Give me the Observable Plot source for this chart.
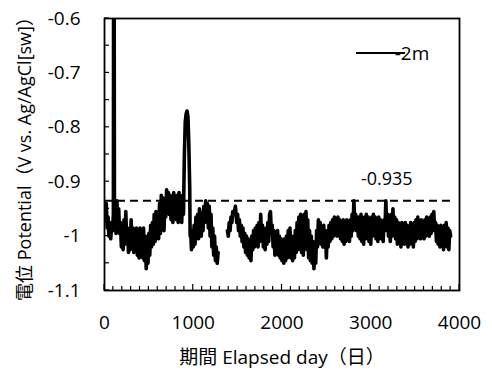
<!DOCTYPE html>
<html>
<head>
<meta charset="utf-8">
<script src="https://cdn.jsdelivr.net/npm/d3@7"></script>
<script src="https://cdn.jsdelivr.net/npm/@observablehq/plot@0.6"></script>
<style>
  html, body { margin: 0; padding: 0; background: #fff; }
  #chart { width: 492px; height: 371px; }
</style>
</head>
<body>
<div id="chart"></div>
<script>
// ---- data ----
const seriesName = "-2m";
const thresholdValue = -0.935;
const thresholdLabel = "-0.935";
const thresholdEnd = 3900;
const xTicks = [0, 1000, 2000, 3000, 4000];
const yTicks = [-0.6, -0.7, -0.8, -0.9, -1, -1.1];
const xTitle = "期間 Elapsed day（日）";
const yTitle = "電位 Potential（V vs. Ag/AgCl[sw]）";

const day = [
  0,10,20,30,40,50,60,70,80,90,100,103,108,112,120,130,140,150,160,170,180,190,200,210,220,230,240,250,260,270,280,290,
  300,310,320,330,340,350,360,370,380,390,400,410,420,430,440,450,460,470,480,490,500,510,520,530,540,550,560,570,580,590,
  600,610,620,630,640,650,660,670,680,690,700,710,720,730,740,750,760,770,780,790,800,810,820,830,840,850,860,870,880,890,
  900,910,920,930,940,950,960,965,970,980,990,1000,1010,1020,1030,1040,1050,1060,1070,1080,1090,1100,1110,1120,1130,1140,
  1150,1160,1170,1180,1190,1200,1210,1220,1230,1240,1250,1260,1270,1280,1330,
  1385,1395,1405,1415,1425,1435,1445,1460,1475,1490,1500,1510,1520,1530,1540,1550,1560,1570,1580,1590,1600,1610,1620,1630,
  1640,1650,1660,1670,1680,1690,1700,1710,1720,1730,1740,1750,1760,1770,1780,1790,1800,1810,1820,1830,1840,1850,1860,1870,
  1880,1890,1900,1910,1920,1930,1940,1950,1960,1970,1980,1990,2000,2010,2020,2030,2040,2050,2060,2070,2080,2090,2100,2110,
  2120,2130,2140,2150,2160,2170,2180,2190,2200,2210,2220,2230,2240,2250,2260,2270,2280,2290,2300,2310,2320,2330,2340,2350,
  2360,2370,2380,2390,2400,2410,2420,2430,2440,2450,2460,2470,2480,2490,2500,2510,2520,2530,2540,2550,2560,2570,2580,2590,
  2600,2610,2620,2630,2640,2650,2660,2670,2680,2690,2700,2710,2720,2730,2740,2750,2760,2770,2780,2790,2800,2810,2820,2830,
  2840,2850,2860,2870,2880,2890,2900,2910,2920,2930,2940,2950,2960,2970,2980,2990,3000,3010,3020,3030,3040,3050,3060,3070,
  3080,3090,3100,3110,3120,3130,3140,3150,3160,3170,3180,3190,3200,3210,3220,3230,3240,3250,3260,3270,3280,3290,3300,3310,
  3320,3330,3340,3350,3360,3370,3380,3390,3400,3410,3420,3430,3440,3450,3460,3470,3480,3490,3500,3510,3520,3530,3540,3550,
  3560,3570,3580,3590,3600,3610,3620,3630,3640,3650,3660,3670,3680,3690,3700,3710,3720,3730,3740,3750,3760,3770,3780,3790,
  3800,3810,3820,3830,3840,3850,3860,3870,3880,3890,3900
];
const potential = [
  -0.945,-0.96,-0.94,-0.985,-0.965,-1.0,-0.975,-1.005,-0.98,-0.99,-0.96,-0.45,-0.45,-0.97,-0.94,-0.995,-0.935,-0.985,-0.95,-0.995,-0.975,-1.02,-0.985,-1.025,-0.97,-1.015,-0.955,-1.01,-0.985,-1.03,-0.995,-1.025,
  -0.97,-1.02,-0.985,-1.03,-0.995,-1.02,-0.985,-1.035,-1.0,-1.04,-0.985,-1.03,-0.99,-1.04,-0.985,-1.045,-1.0,-1.06,-1.02,-1.05,-0.995,-1.035,-0.98,-1.02,-0.975,-1.015,-0.96,-1.01,-0.955,-1.0,
  -0.965,-1.005,-0.94,-0.995,-0.925,-0.985,-0.93,-0.99,-0.945,-0.965,-0.915,-0.955,-0.92,-0.96,-0.925,-0.97,-0.93,-0.975,-0.92,-0.965,-0.93,-0.97,-0.925,-0.975,-0.92,-0.97,-0.93,-0.975,-0.925,-0.96,
  -0.85,-0.79,-0.775,-0.77,-0.78,-0.83,-0.91,-1.0,-0.99,-1.025,-0.99,-1.02,-0.98,-1.015,-0.965,-1.0,-0.96,-1.005,-0.95,-0.96,-1.0,-0.965,-0.99,-0.945,-0.975,-0.935,
  -0.97,-0.94,-0.985,-0.945,-1.0,-0.96,-1.02,-0.985,-1.035,-1.0,-1.045,-1.02,-1.05,-1.03,null,
  -0.99,-1.0,-0.975,-0.99,-0.965,-0.975,-0.955,-0.96,-0.945,-0.975,-0.96,-0.99,-0.97,-1.0,-0.98,-1.01,-0.985,-1.02,-0.995,-1.03,-1.0,-1.035,-1.005,-1.04,
  -1.01,-1.045,-1.0,-1.025,-0.99,-1.02,-0.985,-1.015,-0.98,-1.02,-0.975,-1.01,-0.96,-1.005,-0.98,-1.02,-0.99,-1.025,-0.985,-1.015,-0.975,-1.01,-0.96,-0.955,
  -0.995,-0.98,-1.02,-0.99,-1.035,-0.995,-1.03,-0.99,-1.035,-1.0,-1.04,-1.005,-1.045,-1.01,-1.05,-1.005,-1.045,-1.0,-1.04,-0.99,-1.035,-0.985,-1.04,-1.0,
  -1.045,-1.005,-1.04,-0.99,-1.03,-0.975,-1.025,-0.965,-1.02,-0.96,-1.03,-0.975,-1.035,-0.96,-1.02,-0.955,-1.025,-0.97,-1.04,-0.99,-1.045,-1.0,-1.05,-1.01,
  -1.06,-1.02,-1.05,-0.99,-1.02,-0.97,-1.01,-0.975,-1.015,-0.985,-1.02,-0.98,-1.02,-0.99,-1.04,-0.995,-1.02,-0.98,-1.01,-0.975,-1.005,-0.97,-1.0,-0.965,
  -0.995,-0.97,-1.0,-0.965,-0.995,-0.97,-1.005,-0.975,-1.01,-0.97,-1.015,-0.975,-1.01,-0.97,-1.005,-0.975,-1.01,-0.97,-1.0,-0.96,-0.99,-0.935,-0.975,-0.96,
  -0.99,-0.965,-1.0,-0.965,-1.005,-0.96,-1.01,-0.97,-1.015,-0.965,-1.005,-0.96,-1.0,-0.965,-1.01,-0.97,-1.015,-0.965,-1.0,-0.96,-0.995,-0.965,-1.005,-0.97,
  -1.01,-0.965,-1.0,-0.97,-1.005,-0.975,-1.01,-0.97,-0.99,-0.935,-0.98,-0.96,-1.0,-0.965,-1.01,-0.96,-1.0,-0.95,-0.99,-0.965,-1.005,-0.97,-1.015,-0.975,
  -1.01,-0.98,-1.02,-0.975,-1.01,-0.98,-1.015,-0.975,-1.01,-0.98,-1.02,-0.985,-1.015,-0.975,-1.01,-0.98,-1.02,-0.975,-1.01,-0.97,-1.005,-0.965,-1.0,-0.975,
  -1.005,-0.97,-1.0,-0.975,-1.005,-0.97,-1.0,-0.965,-0.995,-0.97,-1.0,-0.965,-0.995,-0.96,-0.99,-0.955,-0.99,-0.975,-1.01,-0.98,-1.015,-0.985,-1.02,-0.98,
  -1.015,-0.985,-1.025,-0.98,-1.01,-0.975,-1.02,-0.985,-1.025,-0.99,-1.0
];

const data = day.map((d, i) => ({day: d, v: potential[i]}));
const xMinor = d3.range(0, 4001, 100);
const yMinor = d3.range(-1.1, -0.599, 0.05).map(v => +v.toFixed(2));

const font = "'Open Sans', 'Noto Sans CJK JP', sans-serif";

const chart = Plot.plot({
  width: 492,
  height: 371,
  marginLeft: 104,
  marginRight: 33,
  marginTop: 18,
  marginBottom: 81,
  style: {fontFamily: font, fontSize: "19px", color: "#000", background: "#fff", overflow: "visible"},
  x: {domain: [0, 4000], ticks: xTicks, tickSize: 0, tickPadding: 25, tickFormat: d => String(d), label: null},
  y: {domain: [-1.1, -0.6], ticks: yTicks, tickSize: 0, tickPadding: 24, tickFormat: d => String(d), label: null},
  marks: [
    Plot.ruleY([thresholdValue], {x1: 0, x2: thresholdEnd, stroke: "#000", strokeWidth: 2, strokeDasharray: "8,5"}),
    Plot.line(data, {x: "day", y: "v", stroke: "#000", strokeWidth: 3.6, clip: true, curve: "linear", strokeLinejoin: "round"}),
    Plot.frame({stroke: "#000", strokeWidth: 1.8}),
    Plot.text([thresholdLabel], {x: 3180, y: -0.895, text: d => d, fontSize: 18, fill: "#000"}),
    Plot.text([xTitle], {frameAnchor: "bottom", dy: 67, lineAnchor: "middle", textAnchor: "middle", text: d => d, fontSize: 19, fill: "#000"}),
    Plot.text([yTitle], {frameAnchor: "left", dx: -79, rotate: -90, lineAnchor: "middle", textAnchor: "middle", text: d => d, fontSize: 18, fill: "#000"})
  ]
});

// inward minor ticks (drawn with scales)
const sx = chart.scale("x"), sy = chart.scale("y");
const svg = d3.select(chart);
const tg = svg.append("g").attr("stroke", "#000").attr("stroke-width", 1.2);
const yb = sy.apply(-1.1), xl = sx.apply(0);
xMinor.forEach(v => {
  const len = v % 1000 === 0 ? 6 : 4;
  tg.append("line").attr("x1", sx.apply(v)).attr("x2", sx.apply(v)).attr("y1", yb).attr("y2", yb - len);
});
yMinor.forEach(v => {
  tg.append("line").attr("x1", xl).attr("x2", xl + 5).attr("y1", sy.apply(v)).attr("y2", sy.apply(v));
});

// legend
const lg = svg.append("g");
const lx = sx.apply(4000) - 103, ly = sy.apply(-0.6) + 35;
lg.append("line").attr("x1", lx).attr("x2", lx + 49).attr("y1", ly).attr("y2", ly)
  .attr("stroke", "#000").attr("stroke-width", 2.2);
lg.append("text").attr("x", lx + 56).attr("y", ly).attr("dy", "0.35em")
  .attr("font-size", "19px").attr("font-family", font).attr("fill", "#000").text(seriesName);

document.getElementById("chart").append(chart);
</script>
</body>
</html>
